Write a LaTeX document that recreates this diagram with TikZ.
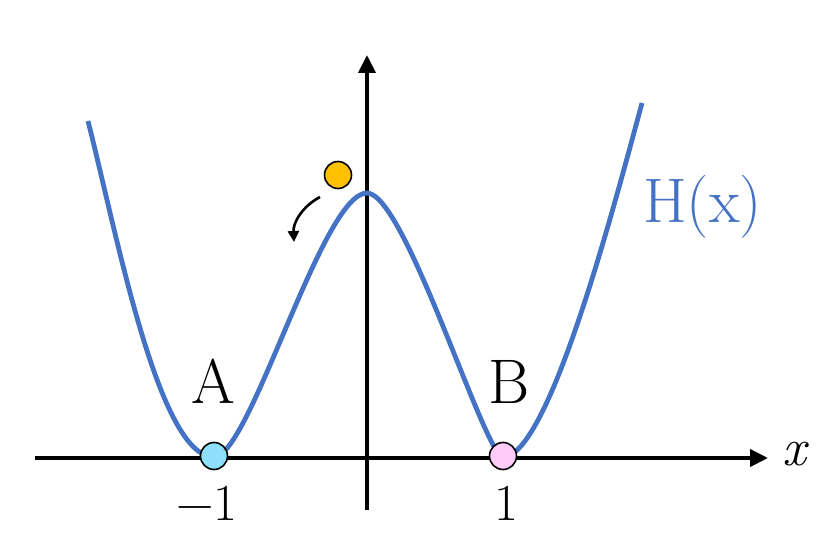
\documentclass[tikz,border=0pt]{standalone}
\usetikzlibrary{arrows.meta}
\definecolor{curveblue}{HTML}{4472C4}
\definecolor{lightcyan}{HTML}{8EE0FA}
\definecolor{lightpink}{HTML}{FFCCF8}
\definecolor{ballorange}{HTML}{FFC000}
\tikzset{
  axis/.style={line width=4pt,-{Triangle[length=18pt,width=17pt]}},
  well/.style={line width=4.8pt,curveblue,line join=round},
  dot/.style={circle,draw=black,line width=1.6pt,minimum size=27pt,inner sep=0pt},
  lbl/.style={inner sep=0pt,anchor=base,font=\fontsize{63}{63}\selectfont},
  num/.style={inner sep=0pt,anchor=base,font=\fontsize{52}{52}\selectfont},
}
\begin{document}
\begin{tikzpicture}[x=1pt,y=-1pt]
\useasboundingbox (0,0) rectangle (832,553);
% axes
\coordinate (xs) at (35,458);
\coordinate (xe) at (768,458);
\coordinate (ys) at (367,510);
\coordinate (ye) at (367,55);
\draw[axis] (xs) -- (xe);
\draw[axis] (ys) -- (ye);
% double well
\coordinate (wl) at (88,121);
\coordinate (pA) at (214,457);
\coordinate (pk) at (367,193);
\coordinate (pB) at (503,457);
\coordinate (wr) at (642,103);
\draw[well] (wl) .. controls (118,239.5) and (159,457) .. (pA)
  .. controls (250,457) and (322,193) .. (pk)
  .. controls (405,193) and (485,457) .. (pB)
  .. controls (548,457) and (612,214) .. (wr);
% points
\node[dot,fill=lightcyan] (minA) at (214,456) {};
\node[dot,fill=lightpink] (minB) at (503,456) {};
\node[dot,fill=ballorange] (ball) at (338,175) {};
% small rolling arrow
\coordinate (rs) at (320,197);
\coordinate (re) at (294,242);
\draw[line width=2.6pt,-{Triangle[length=11pt,width=11pt]}] (rs) .. controls (303,206) and (293,222) .. (re);
% labels
\node[lbl] (labA) at (213,403) {A};
\node[lbl] (labB) at (509,403) {B};
\node[num] (tm1) at (207,520) {−1};
\node[num] (tp1) at (506,520) {1};
\node[inner sep=0pt,anchor=base,font=\fontsize{53}{53}\selectfont\itshape] (xl) at (794,465) {x};
\node[inner sep=0pt,anchor=base west,text=curveblue,font=\fontsize{63}{63}\selectfont] (Hx) at (643,223) {H(x)};
\end{tikzpicture}
\end{document}
